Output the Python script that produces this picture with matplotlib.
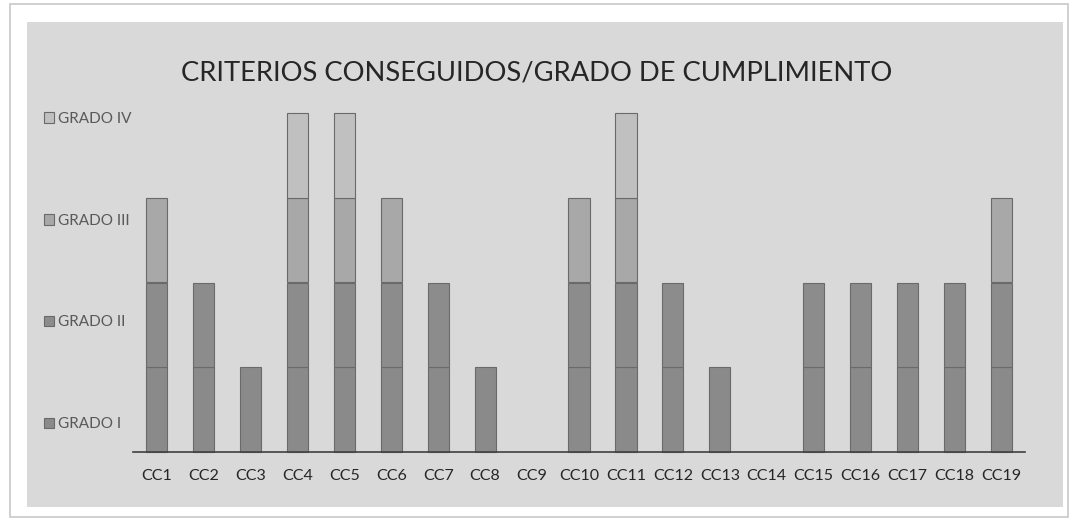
import matplotlib.pyplot as plt
from matplotlib.patches import Rectangle

# Datos: grado de cumplimiento de cada criterio (segmentos apilados)
criterios = ['CC1', 'CC2', 'CC3', 'CC4', 'CC5', 'CC6', 'CC7', 'CC8', 'CC9', 'CC10',
             'CC11', 'CC12', 'CC13', 'CC14', 'CC15', 'CC16', 'CC17', 'CC18', 'CC19']
grado_1 = [1, 1, 1, 1, 1, 1, 1, 1, 0, 1, 1, 1, 1, 0, 1, 1, 1, 1, 1]
grado_2 = [1, 1, 0, 1, 1, 1, 1, 0, 0, 1, 1, 1, 0, 0, 1, 1, 1, 1, 1]
grado_3 = [1, 0, 0, 1, 1, 1, 0, 0, 0, 1, 1, 0, 0, 0, 0, 0, 0, 0, 1]
grado_4 = [0, 0, 0, 1, 1, 0, 0, 0, 0, 0, 1, 0, 0, 0, 0, 0, 0, 0, 0]
series = ['GRADO I', 'GRADO II', 'GRADO III', 'GRADO IV']

colores = ['#8a8a8a', '#8c8c8c', '#a8a8a8', '#c0c0c0']
borde = '#6a6a6a'
fondo = '#d9d9d9'

W, H = 1077, 522
fig = plt.figure(figsize=(W / 100, H / 100), dpi=100)
fig.patch.set_facecolor('white')

# marco blanco y panel gris
fig.patches.append(Rectangle((10 / W, 1 - 517 / H), 1058 / W, 513 / H, transform=fig.transFigure,
                             facecolor='white', edgecolor='#c8c8c8', linewidth=1.2, zorder=-2))
fig.patches.append(Rectangle((27 / W, 1 - 507 / H), 1036 / W, 485 / H, transform=fig.transFigure,
                             facecolor=fondo, edgecolor='none', zorder=-1))

ax = fig.add_axes([133 / W, 1 - 452 / H, 892 / W, 339 / H])
ax.set_zorder(2)
ax.patch.set_alpha(0)

x = range(len(criterios))
base = [0] * len(criterios)
barras = []
for nombre, valores, color in zip(series, [grado_1, grado_2, grado_3, grado_4], colores):
    grosor = [0.8 if v else 0 for v in valores]  # sin borde para los segmentos vacíos
    b = ax.bar(x, valores, width=0.45, bottom=base, color=color, edgecolor=borde,
               linewidth=grosor, label=nombre, clip_on=False)
    barras.append(b)
    base = [a + v for a, v in zip(base, valores)]

ax.set_xlim(-0.5, len(criterios) - 0.5)
ax.set_ylim(0, 4)
for s in ['top', 'right', 'left']:
    ax.spines[s].set_visible(False)
ax.spines['bottom'].set_color('#404040')
ax.spines['bottom'].set_linewidth(1.2)
ax.set_yticks([])
ax.set_xticks(list(x))
ax.set_xticklabels(criterios, fontsize=11.5, color='#262626', family='Lato')
ax.tick_params(axis='x', length=0, pad=12)

fig.text(537 / W, 1 - 73 / H, 'CRITERIOS CONSEGUIDOS/GRADO DE CUMPLIMIENTO',
         ha='center', va='center', fontsize=19.7, color='#262626', family='Lato')

leg = fig.legend(handles=barras[::-1], labels=series[::-1], loc='upper left',
                 bbox_to_anchor=(30 / W, 1 - 98 / H), frameon=False,
                 handlelength=0.7, handleheight=0.7, handletextpad=0.25,
                 labelspacing=5.75, prop={'family': 'Lato', 'size': 11})
for t, h in zip(leg.get_texts(), leg.legend_handles):
    t.set_color('#595959')
    h.set_linewidth(0.8)

fig.savefig('out.png', dpi=100, facecolor='white')
